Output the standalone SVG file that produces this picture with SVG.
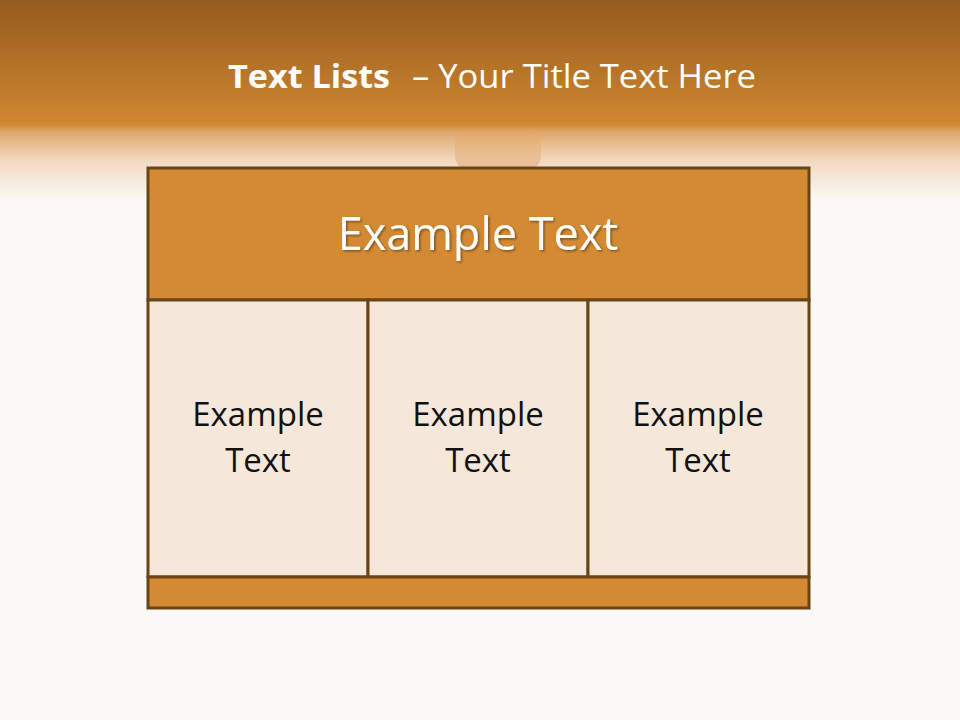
<svg xmlns="http://www.w3.org/2000/svg" width="960" height="720" viewBox="0 0 960 720">
<defs>
<linearGradient id="bg" x1="0" y1="0" x2="0" y2="1">
<stop offset="0" stop-color="#945c1e"/>
<stop offset="0.62" stop-color="#d0872f"/>
<stop offset="0.66" stop-color="#dfa76a"/>
<stop offset="0.8" stop-color="#f1d9c0"/>
<stop offset="1" stop-color="#fbf9f5"/>
</linearGradient>
<linearGradient id="glow" x1="0" y1="0" x2="0" y2="1">
<stop offset="0" stop-color="#e8a868" stop-opacity="0.15"/>
<stop offset="1" stop-color="#dca06a" stop-opacity="0.55"/>
</linearGradient>
<filter id="sh" x="-10%" y="-10%" width="120%" height="130%">
<feDropShadow dx="1.5" dy="1.5" stdDeviation="1" flood-color="#000" flood-opacity="0.4"/>
</filter>
<style>
.box{stroke:#6b4416;stroke-width:3}
.hd{fill:#d38a33}
.cell{fill:#f5e8da}
.t{font-family:"Open Sans","Noto Sans",sans-serif;text-anchor:middle}
.tt{font-family:"Open Sans","Noto Sans",sans-serif;font-size:32px;fill:#fff}
.ct{font-size:33px;fill:#111}
</style>
</defs>
<rect width="960" height="720" fill="#fbf9f5"/>
<rect width="960" height="200" fill="url(#bg)"/>
<rect x="455" y="128" width="86" height="42" rx="14" fill="url(#glow)"/>
<text x="228" y="88" class="tt" font-weight="bold" textLength="162" lengthAdjust="spacingAndGlyphs">Text Lists</text>
<text x="412" y="88" class="tt" textLength="344" lengthAdjust="spacingAndGlyphs">– Your Title Text Here</text>
<g id="header">
<rect x="148" y="168" width="661" height="132" class="box hd"/>
<text x="478" y="250" class="t" font-size="45" fill="#fff" filter="url(#sh)">Example Text</text>
</g>
<g id="cell1">
<rect x="148" y="300" width="220" height="277" class="box cell"/>
<text x="258" y="426" class="t ct">Example</text>
<text x="258" y="472" class="t ct">Text</text>
</g>
<g id="cell2">
<rect x="368" y="300" width="220" height="277" class="box cell"/>
<text x="478" y="426" class="t ct">Example</text>
<text x="478" y="472" class="t ct">Text</text>
</g>
<g id="cell3">
<rect x="588" y="300" width="221" height="277" class="box cell"/>
<text x="698" y="426" class="t ct">Example</text>
<text x="698" y="472" class="t ct">Text</text>
</g>
<g id="footer">
<rect x="148" y="577" width="661" height="31" class="box hd"/>
</g>
<g id="connectors"/>
</svg>
